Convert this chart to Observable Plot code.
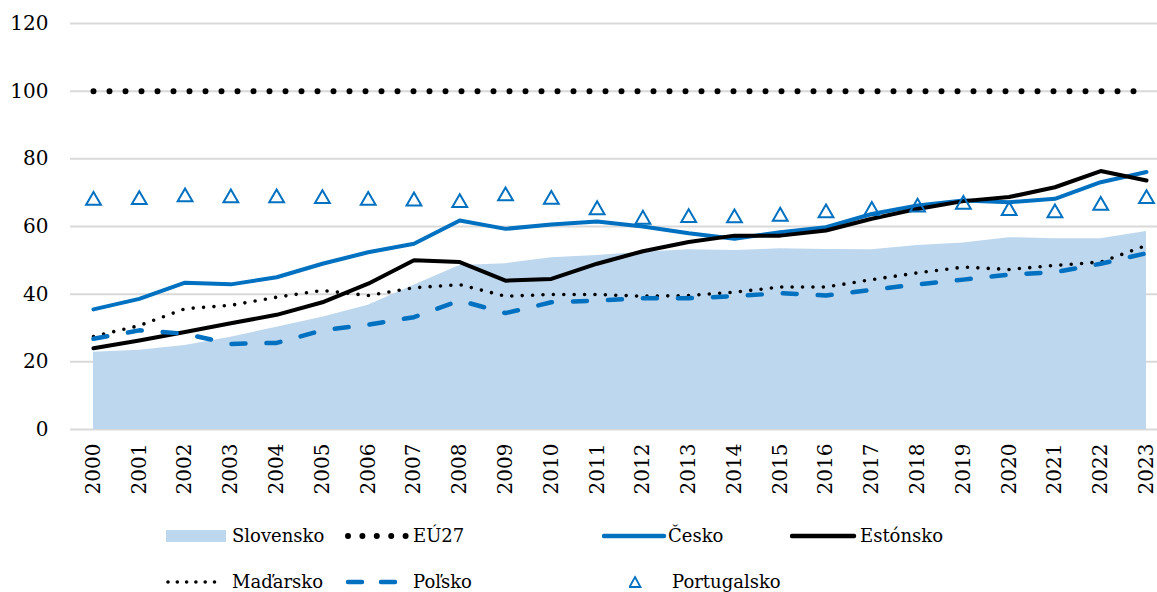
<!DOCTYPE html>
<html><head><meta charset="utf-8">
<script src="https://cdn.jsdelivr.net/npm/d3@7"></script>
<script src="https://cdn.jsdelivr.net/npm/@observablehq/plot@0.6"></script>
<style>
body{margin:0;background:#fff;font-family:"DejaVu Serif",serif;}
#wrap{position:relative;width:1157px;height:592px;overflow:hidden;}
#legend{position:relative;width:1157px;height:82px;}
.mk{position:absolute;transform:translateY(-50%);}
.tx{position:absolute;transform:translateY(-50%);font-size:18px;color:#000;white-space:nowrap;line-height:1;}
</style></head><body><div id="wrap"><div id="chart"></div><div id="legend"></div></div>
<script>
const years = [2000,2001,2002,2003,2004,2005,2006,2007,2008,2009,2010,2011,2012,2013,2014,2015,2016,2017,2018,2019,2020,2021,2022,2023];
const slovensko = [22.8,23.4,24.8,27.3,30.2,33.2,36.7,42.6,48.5,49.0,50.8,51.4,52.4,53.1,52.9,53.4,53.2,53.1,54.4,55.1,56.7,56.4,56.4,58.5];
const eu27 = [100,100,100,100,100,100,100,100,100,100,100,100,100,100,100,100,100,100,100,100,100,100,100,100];
const cesko = [35.5,38.6,43.4,42.9,45.0,49.0,52.4,54.9,61.8,59.3,60.6,61.5,60.0,58.0,56.4,58.3,59.8,63.7,66.2,67.7,67.2,68.2,73.1,76.1];
const estonsko = [24.0,26.3,28.8,31.4,33.9,37.6,43.1,50.0,49.5,44.0,44.5,49.0,52.7,55.4,57.3,57.3,58.8,62.3,65.2,67.5,68.7,71.6,76.4,73.6];
const madarsko = [27.5,30.7,35.7,36.7,39.1,41.1,39.6,41.9,42.8,39.4,39.9,39.9,39.4,39.6,40.6,42.1,42.1,44.3,46.3,48.0,47.3,48.5,49.5,54.4];
const polsko = [26.8,29.3,28.3,25.3,25.6,29.3,31.0,33.2,38.1,34.4,37.6,38.1,38.8,38.8,39.4,40.3,39.6,41.3,42.9,44.3,45.8,46.5,49.0,52.1];
const portugalsko = [67.7,67.9,68.7,68.4,68.4,68.2,67.7,67.5,67.0,69.0,68.0,64.9,62.1,62.6,62.5,63.0,64.0,64.7,65.7,66.5,64.7,64.0,66.2,68.2];
const yTicks = [0,20,40,60,80,100,120];
const seriesNames = ["Slovensko","EÚ27","Česko","Estónsko","Maďarsko","Poľsko","Portugalsko"];

const BLUE = "#0070C0", AREA = "#BDD7EE", GRID = "#D9D9D9";
const rows = years.map((yr,i)=>({year:yr, sk:slovensko[i], eu:eu27[i], cz:cesko[i], ee:estonsko[i], hu:madarsko[i], pl:polsko[i], pt:portugalsko[i]}));

const chart = Plot.plot({
  width:1157, height:510,
  marginLeft:70, marginRight:0, marginTop:23, marginBottom:81,
  style:{fontFamily:"'DejaVu Serif', serif", fontSize:"20px", color:"#000", background:"#fff"},
  x:{type:"linear", domain:[2000,2023], range:[93,1146]},
  y:{domain:[0,120]},
  marks:[
    Plot.ruleY(yTicks, {stroke:GRID, strokeWidth:2}),
    Plot.areaY(rows, {x:"year", y:"sk", fill:AREA, curve:"linear"}),
    Plot.lineY(rows, {x:"year", y:"eu", stroke:"#000", strokeWidth:6, strokeDasharray:"0 16", strokeLinecap:"round"}),
    Plot.lineY(rows, {x:"year", y:"cz", stroke:BLUE, strokeWidth:4, strokeLinejoin:"round"}),
    Plot.lineY(rows, {x:"year", y:"ee", stroke:"#000", strokeWidth:4, strokeLinejoin:"round"}),
    Plot.lineY(rows, {x:"year", y:"hu", stroke:"#000", strokeWidth:3.6, strokeDasharray:"0 10.4", strokeLinecap:"round"}),
    Plot.lineY(rows, {x:"year", y:"pl", stroke:BLUE, strokeWidth:4.5, strokeDasharray:"14 21", strokeLinecap:"round"}),
    Plot.dot(rows, {x:"year", y:"pt", symbol:"triangle", r:5.5, stroke:BLUE, strokeWidth:2, fill:"none"}),
    Plot.axisY({ticks:yTicks, tickSize:0, tickPadding:22, label:null, fontSize:20}),
    Plot.axisX({ticks:years, tickFormat:d=>String(d), tickRotate:-90, tickSize:0, tickPadding:14, label:null, fontSize:20})
  ]
});
document.getElementById("chart").appendChild(chart);

// legend (below the SVG)
const legend = document.getElementById("legend");
const svgNS = "http://www.w3.org/2000/svg";
function marker(kind, x, y){
  const s = document.createElementNS(svgNS,"svg");
  s.setAttribute("width",70); s.setAttribute("height",16);
  s.setAttribute("class","mk"); s.style.left = x+"px"; s.style.top = y+"px";
  let h = "";
  if(kind==="area") h = `<rect x="0" y="2" width="60" height="12" fill="${AREA}"/>`;
  if(kind==="eu") h = `<line x1="3" y1="8" x2="62" y2="8" stroke="#000" stroke-width="6" stroke-dasharray="0 14.4" stroke-linecap="round"/>`;
  if(kind==="cz") h = `<line x1="2" y1="8" x2="62" y2="8" stroke="${BLUE}" stroke-width="4.5" stroke-linecap="round"/>`;
  if(kind==="ee") h = `<line x1="2" y1="8" x2="64" y2="8" stroke="#000" stroke-width="4.5" stroke-linecap="round"/>`;
  if(kind==="hu") h = `<line x1="2" y1="8" x2="56" y2="8" stroke="#000" stroke-width="3.6" stroke-dasharray="0 9.3" stroke-linecap="round"/>`;
  if(kind==="pl") h = `<line x1="3" y1="8" x2="52" y2="8" stroke="${BLUE}" stroke-width="4.5" stroke-dasharray="14 19" stroke-linecap="round"/>`;
  if(kind==="pt") h = `<path d="M6,2 L11.5,12 L0.5,12 Z" fill="none" stroke="${BLUE}" stroke-width="1.8" transform="translate(0,1)"/>`;
  s.innerHTML = h;
  legend.appendChild(s);
}
function label(t, x, y){
  const d = document.createElement("div");
  d.className = "tx"; d.textContent = t; d.style.left = x+"px"; d.style.top = y+"px";
  legend.appendChild(d);
}
const r1 = 26, r2 = 72;
marker("area",166,r1); label(seriesNames[0],232,r1);
marker("eu",345,r1); label(seriesNames[1],413,r1);
marker("cz",602,r1); label(seriesNames[2],668,r1);
marker("ee",790,r1); label(seriesNames[3],860,r1);
marker("hu",166,r2); label(seriesNames[4],232,r2);
marker("pl",345,r2); label(seriesNames[5],413,r2);
marker("pt",629,r2); label(seriesNames[6],672,r2);
</script></body></html>
